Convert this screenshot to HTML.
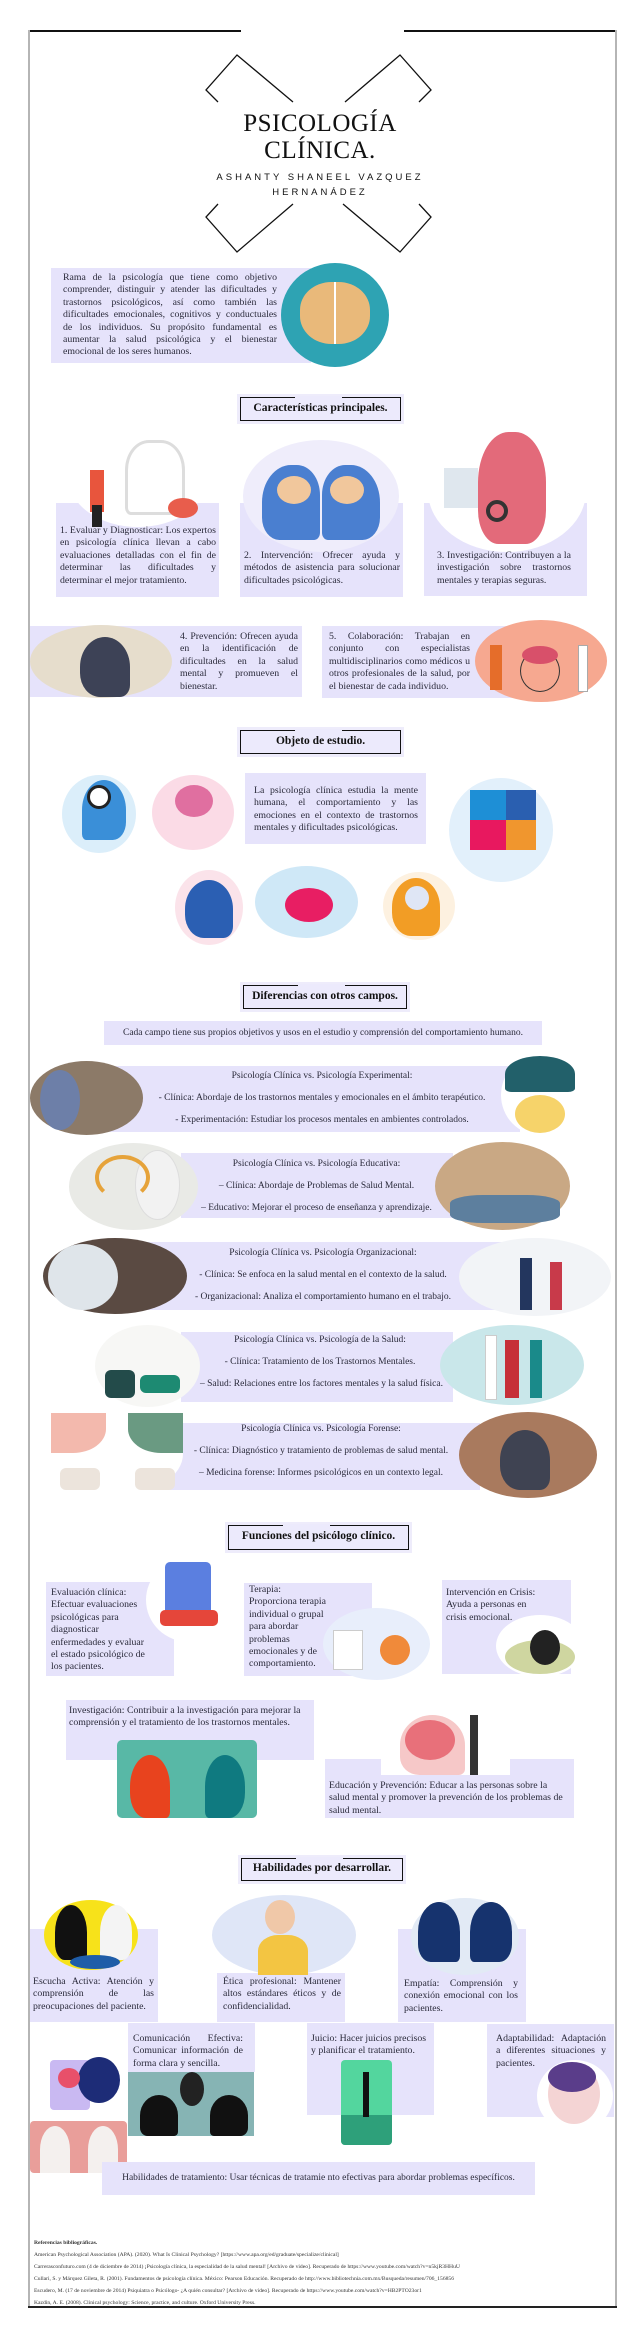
<!DOCTYPE html>
<html><head><meta charset="utf-8"><style>
*{margin:0;padding:0;box-sizing:border-box}
body{width:640px;height:2326px;background:#fff;position:relative;overflow:hidden;font-family:"Liberation Serif",serif;color:#222}
.a{position:absolute}
.lav{position:absolute;background:#e6e3fb}
.t{position:absolute;font-size:9.8px;line-height:12.4px;text-align:justify;color:#2a2a3a}
.l{position:absolute;font-size:9.8px;line-height:12.4px;text-align:left;color:#2a2a3a;white-space:nowrap}
.c{position:absolute;font-size:9.5px;line-height:22px;text-align:center;color:#2a2a3a;white-space:nowrap}
.h{position:absolute;border:1.5px solid #111;background:#eceafc;font-weight:bold;font-size:11.5px;text-align:center;color:#111;box-shadow:0 0 0 3px #eeecfb}
.h i{position:absolute;top:-2px;height:2px;background:#eceafc;left:54px;width:47px}
.el{position:absolute;border-radius:50%}
</style></head><body>
<div class="a" style="left:29px;top:30px;width:212px;height:1.5px;background:#111"></div>
<div class="a" style="left:404px;top:30px;width:213px;height:1.5px;background:#111"></div>
<div class="a" style="left:28px;top:30px;width:2px;height:2278px;background:#b5b5b5"></div>
<div class="a" style="left:615px;top:30px;width:2px;height:2278px;background:#b5b5b5"></div>
<div class="a" style="left:28px;top:2306px;width:589px;height:1.5px;background:#222"></div>

<svg class="a" style="left:0;top:0" width="640" height="260">
<g fill="none" stroke="#111" stroke-width="1.3">
<polyline points="218,102 206,90 237,55 293,102"/>
<polyline points="345,102 400,55 431,90 419,102"/>
<polyline points="218,204 206,217 237,252 293,204"/>
<polyline points="343,204 400,252 431,217 419,204"/>
</g></svg>
<div class="a" style="left:200px;top:110px;width:240px;text-align:center;font-size:25px;line-height:27px;letter-spacing:0.5px;color:#111">PSICOLOGÍA<br>CLÍNICA.</div>
<div class="a" style="left:190px;top:170px;width:260px;text-align:center;font-family:'Liberation Sans',sans-serif;font-size:9.5px;line-height:15px;letter-spacing:3px;color:#111">ASHANTY SHANEEL VAZQUEZ<br>HERNANÁDEZ</div>

<div class="lav" style="left:51px;top:268px;width:260px;height:95px"></div>
<div class="t" style="left:63px;top:272px;width:214px">Rama de la psicología que tiene como objetivo comprender, distinguir y atender las dificultades y trastornos psicológicos, así como también las dificultades emocionales, cognitivos y conductuales de los individuos. Su propósito fundamental es aumentar la salud psicológica y el bienestar emocional de los seres humanos.</div>
<div class="el" style="left:281px;top:263px;width:108px;height:104px;background:#2ea3b3"></div>
<div class="el" style="left:300px;top:282px;width:70px;height:62px;background:#e9b97a;border-radius:45%"></div>
<div class="a" style="left:334px;top:282px;width:2px;height:62px;background:#fff"></div>

<div class="h" style="left:240px;top:397px;width:161px;height:24px;line-height:20px"><i></i>Características principales.</div>

<div class="lav" style="left:56px;top:503px;width:163px;height:94px"></div>
<div class="el" style="left:68px;top:427px;width:140px;height:100px;background:#fff"></div>
<div class="a" style="left:90px;top:470px;width:14px;height:42px;background:#e8553d"></div>
<div class="a" style="left:92px;top:505px;width:10px;height:22px;background:#222"></div>
<div class="a" style="left:125px;top:440px;width:60px;height:75px;border:3px solid #ddd;border-radius:40% 40% 10% 10%"></div>
<div class="el" style="left:168px;top:498px;width:30px;height:20px;background:#e85d4c"></div>
<div class="t" style="left:60px;top:525px;width:156px">1. Evaluar y Diagnosticar: Los expertos en psicología clínica llevan a cabo evaluaciones detalladas con el fin de determinar las dificultades y determinar el mejor tratamiento.</div>

<div class="lav" style="left:240px;top:503px;width:163px;height:94px"></div>
<div class="el" style="left:243px;top:440px;width:156px;height:112px;background:#efedfb"></div>
<div class="a" style="left:262px;top:465px;width:58px;height:75px;background:#4a7fd0;border-radius:50% 40% 10% 30%"></div>
<div class="a" style="left:322px;top:465px;width:58px;height:75px;background:#4a7fd0;border-radius:40% 50% 30% 10%"></div>
<div class="el" style="left:277px;top:476px;width:34px;height:28px;background:#f1c79c"></div>
<div class="el" style="left:330px;top:476px;width:34px;height:28px;background:#f1c79c"></div>
<div class="t" style="left:244px;top:550px;width:156px">2. Intervención: Ofrecer ayuda y métodos de asistencia para solucionar dificultades psicológicas.</div>

<div class="lav" style="left:424px;top:503px;width:163px;height:93px"></div>
<div class="el" style="left:428px;top:430px;width:158px;height:122px;background:#fff"></div>
<div class="a" style="left:478px;top:432px;width:68px;height:112px;background:#e36a7a;border-radius:45% 45% 30% 30%"></div>
<div class="el" style="left:486px;top:500px;width:22px;height:22px;border:4px solid #333"></div>
<div class="a" style="left:444px;top:468px;width:34px;height:40px;background:#dfe7ee"></div>
<div class="t" style="left:437px;top:550px;width:134px">3. Investigación: Contribuyen a la investigación sobre trastornos mentales y terapias seguras.</div>

<div class="lav" style="left:30px;top:626px;width:272px;height:71px"></div>
<div class="el" style="left:30px;top:625px;width:142px;height:73px;background:#e6ddcc"></div>
<div class="a" style="left:80px;top:637px;width:50px;height:60px;background:#3d4256;border-radius:50% 50% 20% 40%"></div>
<div class="t" style="left:180px;top:631px;width:118px">4. Prevención: Ofrecen ayuda en la identificación de dificultades en la salud mental y promueven el bienestar.</div>

<div class="lav" style="left:322px;top:626px;width:200px;height:72px"></div>
<div class="el" style="left:475px;top:620px;width:132px;height:82px;background:#f6a890"></div>
<div class="el" style="left:520px;top:650px;width:40px;height:42px;border:1.5px solid #333;background:#f6a890"></div>
<div class="el" style="left:522px;top:646px;width:36px;height:18px;background:#d8506a"></div>
<div class="a" style="left:490px;top:645px;width:12px;height:45px;background:#e56d2a"></div>
<div class="a" style="left:578px;top:645px;width:10px;height:47px;background:#fff;border:1px solid #aaa"></div>
<div class="t" style="left:329px;top:631px;width:141px">5. Colaboración: Trabajan en conjunto con especialistas multidisciplinarios como médicos u otros profesionales de la salud, por el bienestar de cada individuo.</div>

<div class="h" style="left:240px;top:730px;width:161px;height:24px;line-height:20px"><i></i>Objeto de estudio.</div>

<div class="lav" style="left:245px;top:773px;width:181px;height:71px"></div>
<div class="t" style="left:254px;top:785px;width:164px">La psicología clínica estudia la mente humana, el comportamiento y las emociones en el contexto de trastornos mentales y dificultades psicológicas.</div>
<div class="el" style="left:62px;top:775px;width:74px;height:78px;background:#dbeefa"></div>
<div class="a" style="left:82px;top:780px;width:44px;height:60px;background:#3a8fd8;border-radius:50% 50% 30% 10%"></div>
<div class="el" style="left:87px;top:785px;width:24px;height:24px;background:#fff;border:3px solid #222"></div>
<div class="el" style="left:152px;top:775px;width:82px;height:75px;background:#fbdbe6"></div>
<div class="el" style="left:175px;top:785px;width:38px;height:32px;background:#e06fa0"></div>
<div class="el" style="left:449px;top:778px;width:104px;height:104px;background:#e2f0fb"></div>
<div class="a" style="left:470px;top:790px;width:36px;height:30px;background:#1e8fd6"></div>
<div class="a" style="left:506px;top:790px;width:30px;height:30px;background:#2a5fb0"></div>
<div class="a" style="left:470px;top:820px;width:36px;height:30px;background:#e8185f"></div>
<div class="a" style="left:506px;top:820px;width:30px;height:30px;background:#f0962e"></div>
<div class="el" style="left:175px;top:870px;width:68px;height:75px;background:#fbe3ea"></div>
<div class="a" style="left:185px;top:880px;width:48px;height:58px;background:#2b5fb3;border-radius:50% 50% 20% 40%"></div>
<div class="el" style="left:255px;top:866px;width:103px;height:72px;background:#cfe8f7"></div>
<div class="el" style="left:285px;top:888px;width:48px;height:34px;background:#e81e63"></div>
<div class="el" style="left:383px;top:872px;width:72px;height:68px;background:#fdf1e0"></div>
<div class="a" style="left:392px;top:878px;width:48px;height:58px;background:#f29d25;border-radius:50% 50% 20% 40%"></div>
<div class="el" style="left:405px;top:886px;width:24px;height:24px;background:#dfe6f5"></div>

<div class="h" style="left:243px;top:985px;width:164px;height:24px;line-height:20px"><i></i>Diferencias con otros campos.</div>
<div class="lav" style="left:104px;top:1021px;width:438px;height:24px"></div>
<div class="c" style="left:104px;top:1021px;width:438px;line-height:24px">Cada campo tiene sus propios objetivos y usos en el estudio y comprensión del comportamiento humano.</div>

<div class="lav" style="left:100px;top:1066px;width:420px;height:66px"></div>
<div class="el" style="left:30px;top:1061px;width:113px;height:74px;background:#8c7a68"></div>
<div class="el" style="left:40px;top:1070px;width:40px;height:60px;background:#6d7fa8"></div>
<div class="el" style="left:501px;top:1055px;width:77px;height:80px;background:#fff"></div>
<div class="el" style="left:505px;top:1056px;width:70px;height:36px;background:#22606a;border-radius:50% 50% 10% 10%"></div>
<div class="el" style="left:515px;top:1095px;width:50px;height:38px;background:#f6d36a"></div>
<div class="c" style="left:143px;top:1065px;width:358px">Psicología Clínica vs. Psicología Experimental:<br>- Clínica: Abordaje de los trastornos mentales y emocionales en el ámbito terapéutico.<br>- Experimentación: Estudiar los procesos mentales en ambientes controlados.</div>

<div class="lav" style="left:181px;top:1153px;width:272px;height:65px"></div>
<div class="el" style="left:69px;top:1143px;width:129px;height:87px;background:#e9eae6"></div>
<div class="el" style="left:135px;top:1150px;width:45px;height:70px;background:#f2f2f2;border:1px solid #ddd"></div>
<div class="el" style="left:95px;top:1155px;width:55px;height:45px;border:4px solid #e6a33a;border-bottom-color:transparent"></div>
<div class="el" style="left:435px;top:1142px;width:135px;height:88px;background:#c9a884"></div>
<div class="a" style="left:450px;top:1195px;width:110px;height:28px;background:#5d7f9e;border-radius:30%"></div>
<div class="c" style="left:198px;top:1153px;width:237px">Psicología Clínica vs. Psicología Educativa:<br>– Clínica: Abordaje de Problemas de Salud Mental.<br>– Educativo: Mejorar el proceso de enseñanza y aprendizaje.</div>

<div class="lav" style="left:120px;top:1242px;width:400px;height:68px"></div>
<div class="el" style="left:43px;top:1238px;width:144px;height:76px;background:#5a4a42"></div>
<div class="el" style="left:48px;top:1244px;width:70px;height:66px;background:#dfe5ea"></div>
<div class="el" style="left:459px;top:1238px;width:152px;height:78px;background:#f2f4f7"></div>
<div class="a" style="left:520px;top:1258px;width:12px;height:52px;background:#23365e"></div>
<div class="a" style="left:550px;top:1262px;width:12px;height:48px;background:#c83a4a"></div>
<div class="c" style="left:187px;top:1242px;width:272px">Psicología Clínica vs. Psicología Organizacional:<br>- Clínica: Se enfoca en la salud mental en el contexto de la salud.<br>- Organizacional: Analiza el comportamiento humano en el trabajo.</div>

<div class="lav" style="left:181px;top:1332px;width:272px;height:70px"></div>
<div class="el" style="left:95px;top:1325px;width:105px;height:82px;background:#f7f7f5"></div>
<div class="a" style="left:105px;top:1370px;width:30px;height:28px;background:#234b4a;border-radius:6px"></div>
<div class="a" style="left:140px;top:1375px;width:40px;height:18px;background:#1d8a72;border-radius:6px"></div>
<div class="el" style="left:440px;top:1325px;width:144px;height:80px;background:#c9e7ea"></div>
<div class="a" style="left:485px;top:1335px;width:12px;height:65px;background:#fff;border:1px solid #ccc"></div>
<div class="a" style="left:505px;top:1340px;width:14px;height:58px;background:#c62f38"></div>
<div class="a" style="left:530px;top:1340px;width:12px;height:58px;background:#1a8a8a"></div>
<div class="c" style="left:200px;top:1329px;width:240px">Psicología Clínica vs. Psicología de la Salud:<br>- Clínica: Tratamiento de los Trastornos Mentales.<br>– Salud: Relaciones entre los factores mentales y la salud física.</div>

<div class="lav" style="left:160px;top:1423px;width:320px;height:67px"></div>
<div class="el" style="left:51px;top:1413px;width:132px;height:82px;background:#fff"></div>
<div class="a" style="left:51px;top:1413px;width:55px;height:40px;background:#f3b9ad;border-radius:0 0 60% 0"></div>
<div class="a" style="left:128px;top:1413px;width:55px;height:40px;background:#6a9a82;border-radius:0 0 0 60%"></div>
<div class="a" style="left:60px;top:1468px;width:40px;height:22px;background:#ece4dc;border-radius:6px"></div>
<div class="a" style="left:135px;top:1468px;width:40px;height:22px;background:#ece4dc;border-radius:6px"></div>
<div class="el" style="left:459px;top:1412px;width:138px;height:86px;background:#a97a5e"></div>
<div class="a" style="left:500px;top:1430px;width:50px;height:60px;background:#3f4352;border-radius:50% 50% 20% 40%"></div>
<div class="c" style="left:183px;top:1418px;width:276px">Psicología Clínica vs. Psicología Forense:<br>- Clínica: Diagnóstico y tratamiento de problemas de salud mental.<br>– Medicina forense: Informes psicológicos en un contexto legal.</div>

<div class="h" style="left:228px;top:1525px;width:181px;height:25px;line-height:21px"><i></i>Funciones del psicólogo clínico.</div>

<div class="lav" style="left:46px;top:1582px;width:128px;height:94px"></div>
<div class="el" style="left:146px;top:1558px;width:86px;height:84px;background:#fff"></div>
<div class="a" style="left:165px;top:1562px;width:46px;height:60px;background:#5b7fe0;border-radius:5px"></div>
<div class="a" style="left:160px;top:1610px;width:58px;height:16px;background:#e5463a;border-radius:5px"></div>
<div class="l" style="left:51px;top:1587px">Evaluación clínica:<br>Efectuar evaluaciones<br>psicológicas para<br>diagnosticar<br>enfermedades y evaluar<br>el estado psicológico de<br>los pacientes.</div>

<div class="lav" style="left:244px;top:1583px;width:128px;height:93px"></div>
<div class="el" style="left:323px;top:1608px;width:107px;height:72px;background:#e8eefb"></div>
<div class="el" style="left:380px;top:1635px;width:30px;height:30px;background:#f08a3a"></div>
<div class="a" style="left:333px;top:1630px;width:30px;height:40px;background:#fff;border:1px solid #ccc"></div>
<div class="l" style="left:249px;top:1584px">Terapia:<br>Proporciona terapia<br>individual o grupal<br>para abordar<br>problemas<br>emocionales y de<br>comportamiento.</div>

<div class="lav" style="left:442px;top:1580px;width:129px;height:94px"></div>
<div class="el" style="left:496px;top:1615px;width:88px;height:62px;background:#fff"></div>
<div class="el" style="left:505px;top:1640px;width:70px;height:34px;background:#cfd6a0"></div>
<div class="el" style="left:530px;top:1630px;width:30px;height:35px;background:#222"></div>
<div class="l" style="left:446px;top:1587px">Intervención en Crisis:<br>Ayuda a personas en<br>crisis emocional.</div>

<div class="lav" style="left:66px;top:1700px;width:248px;height:60px"></div>
<div class="l" style="left:69px;top:1705px">Investigación: Contribuir a la investigación para mejorar la<br>comprensión y el tratamiento de los trastornos mentales.</div>
<div class="a" style="left:117px;top:1740px;width:140px;height:78px;background:#58b8a6;border-radius:5px"></div>
<div class="a" style="left:130px;top:1755px;width:40px;height:63px;background:#e8431e;border-radius:50% 50% 10% 40%"></div>
<div class="a" style="left:205px;top:1755px;width:40px;height:63px;background:#0f7a80;border-radius:50% 50% 40% 10%"></div>

<div class="lav" style="left:325px;top:1759px;width:249px;height:59px"></div>
<div class="a" style="left:381px;top:1705px;width:129px;height:70px;background:#fff"></div>
<div class="a" style="left:400px;top:1715px;width:65px;height:60px;background:#f6c8c8;border-radius:50% 50% 10% 30%"></div>
<div class="el" style="left:405px;top:1720px;width:50px;height:40px;background:#e8707a"></div>
<div class="a" style="left:470px;top:1715px;width:8px;height:60px;background:#333"></div>
<div class="l" style="left:329px;top:1780px">Educación y Prevención: Educar a las personas sobre la<br>salud mental y promover la prevención de los problemas de<br>salud mental.</div>

<div class="h" style="left:241px;top:1858px;width:162px;height:23px;line-height:19px"><i></i>Habilidades por desarrollar.</div>

<div class="lav" style="left:30px;top:1929px;width:128px;height:93px"></div>
<div class="el" style="left:44px;top:1900px;width:94px;height:70px;background:#f7e21a"></div>
<div class="a" style="left:55px;top:1905px;width:32px;height:55px;background:#111;border-radius:50% 50% 10% 30%"></div>
<div class="a" style="left:100px;top:1905px;width:32px;height:55px;background:#f4f4f4;border-radius:50% 50% 30% 10%"></div>
<div class="a" style="left:70px;top:1955px;width:50px;height:14px;background:#1f5da8;border-radius:50%"></div>
<div class="t" style="left:33px;top:1976px;width:121px">Escucha Activa: Atención y comprensión de las preocupaciones del paciente.</div>

<div class="lav" style="left:217px;top:1973px;width:128px;height:49px"></div>
<div class="el" style="left:212px;top:1895px;width:144px;height:80px;background:#dfe6f7"></div>
<div class="a" style="left:258px;top:1935px;width:50px;height:40px;background:#f3c542;border-radius:40% 40% 0 0"></div>
<div class="el" style="left:265px;top:1900px;width:30px;height:34px;background:#f0c8a8"></div>
<div class="t" style="left:223px;top:1976px;width:118px">Ética profesional: Mantener altos estándares éticos y de confidencialidad.</div>

<div class="lav" style="left:398px;top:1929px;width:128px;height:93px"></div>
<div class="el" style="left:411px;top:1898px;width:108px;height:77px;background:#e2eaf5"></div>
<div class="a" style="left:418px;top:1902px;width:42px;height:60px;background:#16336e;border-radius:50% 50% 10% 30%"></div>
<div class="a" style="left:470px;top:1902px;width:42px;height:60px;background:#16336e;border-radius:50% 50% 30% 10%"></div>
<div class="t" style="left:404px;top:1978px;width:114px">Empatía: Comprensión y conexión emocional con los pacientes.</div>

<div class="el" style="left:33px;top:2055px;width:90px;height:63px;background:#fff"></div>
<div class="a" style="left:50px;top:2060px;width:40px;height:50px;background:#c9b9f2;border-radius:4px"></div>
<div class="el" style="left:78px;top:2057px;width:42px;height:46px;background:#1d2c77"></div>
<div class="el" style="left:58px;top:2068px;width:22px;height:20px;background:#e8506a"></div>
<div class="a" style="left:30px;top:2121px;width:97px;height:52px;background:#e99e9a;border-radius:4px"></div>
<div class="a" style="left:40px;top:2126px;width:30px;height:47px;background:#f4f0ee;border-radius:50% 50% 0 0"></div>
<div class="a" style="left:88px;top:2126px;width:30px;height:47px;background:#f4f0ee;border-radius:50% 50% 0 0"></div>

<div class="lav" style="left:128px;top:2023px;width:127px;height:49px"></div>
<div class="t" style="left:133px;top:2033px;width:110px">Comunicación Efectiva: Comunicar información de forma clara y sencilla.</div>
<div class="a" style="left:128px;top:2072px;width:126px;height:64px;background:#86b4b4"></div>
<div class="a" style="left:140px;top:2095px;width:38px;height:41px;background:#111;border-radius:50% 50% 10% 20%"></div>
<div class="a" style="left:210px;top:2095px;width:38px;height:41px;background:#111;border-radius:50% 50% 20% 10%"></div>
<div class="el" style="left:180px;top:2072px;width:24px;height:34px;background:#222"></div>

<div class="lav" style="left:307px;top:2023px;width:127px;height:92px"></div>
<div class="l" style="left:311px;top:2033px">Juicio: Hacer juicios precisos<br>y planificar el tratamiento.</div>
<div class="a" style="left:341px;top:2060px;width:51px;height:85px;background:#53d69e;border-radius:4px"></div>
<div class="a" style="left:341px;top:2115px;width:51px;height:30px;background:#2ea07a;border-radius:0 0 4px 4px"></div>
<div class="a" style="left:363px;top:2072px;width:6px;height:45px;background:#111"></div>

<div class="lav" style="left:487px;top:2024px;width:127px;height:93px"></div>
<div class="t" style="left:496px;top:2033px;width:110px">Adaptabilidad: Adaptación a diferentes situaciones y pacientes.</div>
<div class="el" style="left:537px;top:2060px;width:76px;height:72px;background:#fff"></div>
<div class="el" style="left:548px;top:2064px;width:52px;height:60px;background:#f4d4d4"></div>
<div class="el" style="left:548px;top:2062px;width:48px;height:30px;background:#5a3d8a"></div>

<div class="lav" style="left:102px;top:2162px;width:433px;height:33px"></div>
<div class="c" style="left:102px;top:2162px;width:433px;line-height:33px">Habilidades de tratamiento: Usar técnicas de tratamie nto efectivas para abordar problemas específicos.</div>

<div class="a" style="left:34px;top:2237px;font-size:5.6px;line-height:12px;color:#333;white-space:nowrap">
<b>Referencias bibliográficas.</b><br>
American Psychological Association (APA). (2020). What Is Clinical Psychology? [https://www.apa.org/ed/graduate/specialize/clinical]<br>
Carrerasconfuturo.com (4 de diciembre de 2014) ¡Psicología clínica, la especialidad de la salud mental! [Archivo de video]. Recuperado de https://www.youtube.com/watch?v=n5kjR3HHuU<br>
Cullari, S. y Márquez Gileta, R. (2001). Fundamentos de psicología clínica. México: Pearson Educación. Recuperado de http://www.bibliotechnia.com.mx/Busqueda/resumen/706_156856<br>
Escudero, M. (17 de noviembre de 2014) Psiquiatra o Psicólogo- ¿A quién consultar? [Archivo de video]. Recuperado de https://www.youtube.com/watch?v=HB2PTO23or1<br>
Kazdin, A. E. (2008). Clinical psychology: Science, practice, and culture. Oxford University Press.
</div>
</body></html>
